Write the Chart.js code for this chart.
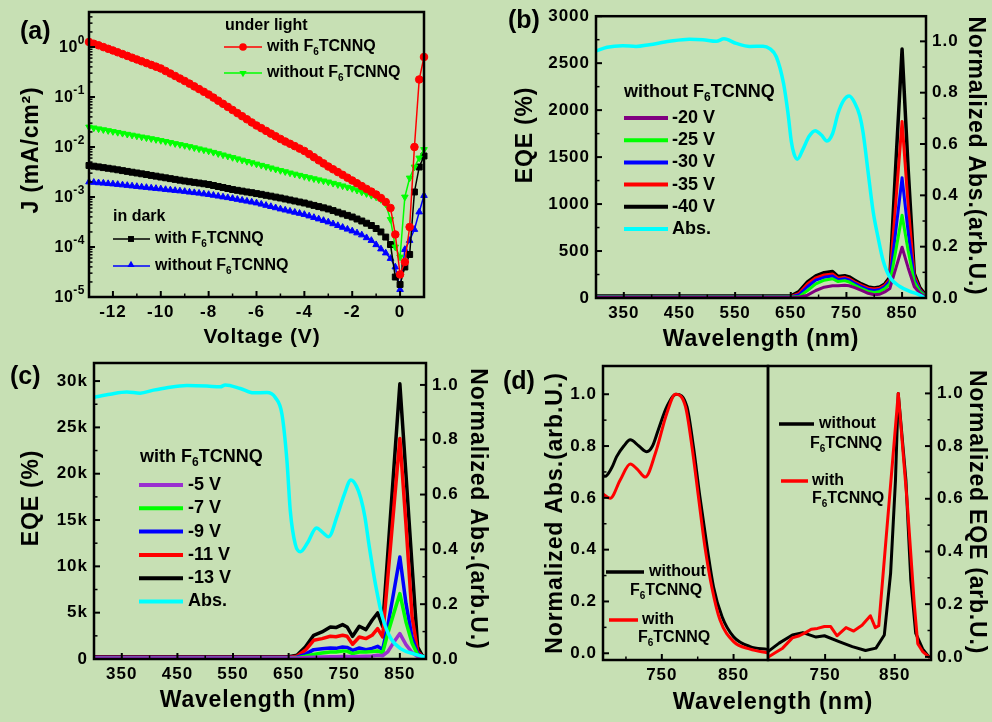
<!DOCTYPE html>
<html>
<head>
<meta charset="utf-8">
<title>F6TCNNQ photodetector figure</title>
<script src="https://cdn.jsdelivr.net/npm/chart.js@4.4.1/dist/chart.umd.min.js"></script>
<style>
  html, body { margin: 0; padding: 0; background: #c7e0b4; }
  #fig { position: relative; width: 992px; height: 722px; overflow: hidden; background: #c7e0b4; }
  #fig canvas { position: absolute; left: 0; top: 0; }
</style>
</head>
<body>
<div id="fig">
  <canvas id="chartA" width="992" height="722"></canvas>
  <canvas id="chartB" width="992" height="722"></canvas>
  <canvas id="chartC" width="992" height="722"></canvas>
  <canvas id="chartD1" width="992" height="722"></canvas>
  <canvas id="chartD2" width="992" height="722"></canvas>
</div>
<script>
const FAMILY = "'Liberation Sans', Arial, Helvetica, sans-serif";
const W = 992, H = 722;

// ---------- (a) J-V curves ----------
const voltage = [-13, -12.8, -12.6, -12.4, -12.2, -12, -11.8, -11.6, -11.4, -11.2, -11, -10.8, -10.6, -10.4, -10.2, -10,
  -9.8, -9.6, -9.4, -9.2, -9, -8.8, -8.6, -8.4, -8.2, -8, -7.8, -7.6, -7.4, -7.2, -7, -6.8, -6.6, -6.4, -6.2, -6,
  -5.8, -5.6, -5.4, -5.2, -5, -4.8, -4.6, -4.4, -4.2, -4, -3.8, -3.6, -3.4, -3.2, -3, -2.8, -2.6, -2.4, -2.2, -2,
  -1.8, -1.6, -1.4, -1.2, -1, -0.8, -0.6, -0.4, -0.2, 0, 0.2, 0.4, 0.6, 0.8, 1];
const jLightWith = [1.26, 1.16, 1.08, 0.995, 0.92, 0.851, 0.783, 0.721, 0.664, 0.611, 0.562, 0.518, 0.476, 0.439, 0.404, 0.372,
  0.331, 0.295, 0.263, 0.234, 0.209, 0.185, 0.163, 0.144, 0.127, 0.112, 0.0973, 0.0843, 0.0731, 0.0634, 0.055,
  0.0476, 0.0413, 0.0358, 0.031, 0.0269, 0.0238, 0.021, 0.0185, 0.0164, 0.0145, 0.0129, 0.0116, 0.0104, 0.00929, 0.00832,
  0.00721, 0.00625, 0.00542, 0.0047, 0.00407, 0.00358, 0.00315, 0.00277, 0.00243, 0.00214, 0.00188, 0.00165, 0.00145,
  0.00128, 0.00112, 9.55e-4, 7.94e-4, 6.03e-4, 1.78e-4, 2.82e-5, 5.01e-5, 2.51e-4, 0.01, 0.224, 0.631];
const jLightWithout = [0.0251, 0.0241, 0.0231, 0.0222, 0.0213, 0.0204, 0.0196, 0.0188, 0.018, 0.0173, 0.0166, 0.0159, 0.0153,
  0.0147, 0.0141, 0.0135, 0.0129, 0.0123, 0.0117, 0.0112, 0.0107, 0.0102, 0.00968, 0.0092, 0.00875, 0.00832, 0.00783,
  0.00738, 0.00695, 0.00655, 0.00617, 0.00581, 0.00547, 0.00515, 0.00485, 0.00457, 0.00431, 0.00406, 0.00382, 0.0036,
  0.00339, 0.00321, 0.00303, 0.00287, 0.00272, 0.00257, 0.00244, 0.00232, 0.00221, 0.0021, 0.002, 0.00188, 0.00177,
  0.00167, 0.00157, 0.00148, 0.00137, 0.00126, 0.00117, 0.00108, 0.001, 8.91e-4, 7.24e-4, 3.55e-4, 1.0e-4, 6.31e-5,
  1.0e-3, 2.4e-3, 3.98e-3, 6.03e-3, 8.91e-3];
const jDarkWith = [4.27e-3, 4.13e-3, 4.0e-3, 3.87e-3, 3.75e-3, 3.63e-3, 3.5e-3, 3.37e-3, 3.25e-3, 3.13e-3, 3.02e-3, 2.91e-3,
  2.81e-3, 2.7e-3, 2.61e-3, 2.51e-3, 2.42e-3, 2.33e-3, 2.25e-3, 2.17e-3, 2.09e-3, 2.02e-3, 1.96e-3, 1.9e-3, 1.84e-3,
  1.78e-3, 1.7e-3, 1.62e-3, 1.55e-3, 1.48e-3, 1.41e-3, 1.36e-3, 1.31e-3, 1.26e-3, 1.22e-3, 1.17e-3, 1.13e-3, 1.08e-3,
  1.04e-3, 9.95e-4, 9.55e-4, 9.12e-4, 8.71e-4, 8.32e-4, 7.94e-4, 7.59e-4, 7.18e-4, 6.79e-4, 6.43e-4, 6.08e-4, 5.75e-4,
  5.35e-4, 4.97e-4, 4.61e-4, 4.29e-4, 3.98e-4, 3.63e-4, 3.31e-4, 2.99e-4, 2.69e-4, 2.34e-4, 2.0e-4, 1.58e-4, 1.12e-4,
  2.51e-5, 1.78e-5, 3.98e-5, 7.08e-5, 1.26e-3, 3.98e-3, 6.61e-3];
const jDarkWithout = [2.0e-3, 1.96e-3, 1.92e-3, 1.89e-3, 1.85e-3, 1.82e-3, 1.78e-3, 1.74e-3, 1.7e-3, 1.66e-3, 1.62e-3, 1.58e-3,
  1.55e-3, 1.51e-3, 1.48e-3, 1.45e-3, 1.41e-3, 1.38e-3, 1.35e-3, 1.32e-3, 1.29e-3, 1.25e-3, 1.22e-3, 1.19e-3, 1.15e-3,
  1.12e-3, 1.08e-3, 1.04e-3, 1.0e-3, 9.68e-4, 9.33e-4, 8.95e-4, 8.59e-4, 8.24e-4, 7.91e-4, 7.59e-4, 7.18e-4, 6.79e-4,
  6.43e-4, 6.08e-4, 5.75e-4, 5.47e-4, 5.2e-4, 4.94e-4, 4.7e-4, 4.47e-4, 4.17e-4, 3.89e-4, 3.63e-4, 3.39e-4, 3.16e-4,
  2.91e-4, 2.68e-4, 2.47e-4, 2.27e-4, 2.09e-4, 1.91e-4, 1.74e-4, 1.53e-4, 1.35e-4, 1.11e-4, 9.12e-5, 7.59e-5, 5.89e-5,
  3.98e-5, 1.41e-5, 8.91e-5, 1.35e-4, 2.24e-4, 5.01e-4, 1.07e-3];

// ---------- (b) / (c) EQE spectra ----------
const eqeWl = [300, 400, 500, 600, 650, 665, 680, 695, 710, 725, 735, 747, 755, 765, 777, 789, 800, 810, 819, 828, 839, 850, 861, 872, 882, 890, 895];
// (b) without F6TCNNQ
const eqeWithoutM20 = [8, 8, 8, 8, 8, 8, 30, 80, 115, 130, 130, 135, 130, 110, 80, 50, 35, 40, 65, 100, 320, 540, 320, 120, 50, 20, 10];
const eqeWithoutM25 = [10, 10, 10, 10, 10, 15, 80, 150, 190, 205, 175, 185, 170, 135, 100, 70, 60, 70, 100, 150, 515, 880, 500, 170, 70, 30, 15];
const eqeWithoutM30 = [12, 12, 12, 12, 12, 35, 120, 190, 220, 235, 195, 205, 190, 155, 120, 90, 80, 90, 120, 180, 730, 1280, 700, 200, 80, 35, 20];
const eqeWithoutM35 = [15, 15, 15, 15, 15, 50, 150, 215, 245, 255, 210, 220, 205, 170, 135, 105, 95, 105, 135, 200, 1040, 1880, 980, 230, 90, 40, 25];
const eqeWithoutM40 = [20, 20, 20, 20, 20, 70, 170, 235, 270, 283, 228, 238, 225, 190, 150, 118, 108, 118, 150, 220, 1450, 2650, 1370, 260, 110, 50, 30];
// (c) with F6TCNNQ
const eqeWithM5 = [100, 100, 100, 100, 100, 120, 150, 200, 220, 250, 250, 280, 280, 250, 280, 300, 330, 400, 350, 760, 1800, 2740, 1550, 700, 250, 150, 100];
const eqeWithM7 = [100, 100, 100, 100, 100, 150, 300, 500, 650, 760, 760, 870, 850, 580, 760, 760, 800, 870, 650, 2700, 4900, 7060, 4000, 1700, 450, 200, 100];
const eqeWithM9 = [150, 150, 150, 150, 150, 200, 500, 1010, 1100, 1190, 1150, 1300, 1250, 940, 1190, 1010, 1150, 1370, 1010, 3500, 7200, 11000, 6000, 2300, 600, 250, 150];
const eqeWithM11 = [200, 200, 200, 200, 200, 300, 940, 2020, 2200, 2450, 2400, 2560, 2450, 1590, 2380, 2200, 2560, 3280, 2380, 8600, 16200, 23800, 14500, 4500, 800, 300, 200];
const eqeWithM13 = [250, 250, 250, 250, 250, 400, 1300, 2560, 2920, 3460, 3390, 3710, 3460, 2450, 3530, 3170, 4180, 4970, 3530, 11100, 20400, 29700, 19900, 10000, 1300, 400, 200];

const absWlB = [300, 320, 348, 372, 396, 432, 468, 492, 516, 530, 552, 576, 600, 612, 624, 637, 645, 651, 656, 662, 672, 683, 694, 705,
  715, 725, 735, 745, 755, 765, 774, 780, 789, 798, 807, 816, 828, 846, 865, 876, 888];
const absWithoutB = [0.962, 0.977, 0.983, 0.98, 0.987, 1.0, 1.008, 1.006, 1.0, 1.01, 0.992, 0.98, 0.981, 0.972, 0.94, 0.836, 0.72, 0.61,
  0.56, 0.541, 0.58, 0.63, 0.652, 0.635, 0.612, 0.64, 0.72, 0.77, 0.787, 0.76, 0.71, 0.644, 0.49, 0.337, 0.234, 0.145, 0.081,
  0.045, 0.025, 0.017, 0.004];
const absWlC = [300, 329, 359, 383, 407, 431, 467, 503, 527, 536, 563, 587, 611, 626, 638, 647, 653, 662, 671, 684, 700, 712, 722, 738,
  750, 762, 772, 780, 787, 795, 807, 819, 834, 852, 876, 894];
const absWithC = [0.955, 0.966, 0.974, 0.97, 0.981, 0.99, 0.998, 0.996, 0.993, 1.0, 0.987, 0.971, 0.972, 0.954, 0.893, 0.722, 0.54,
  0.418, 0.391, 0.424, 0.478, 0.46, 0.446, 0.527, 0.6, 0.653, 0.63, 0.585, 0.52, 0.41, 0.263, 0.15, 0.074, 0.037, 0.018, 0.008];

const seriesB = ['-20 V', '-25 V', '-30 V', '-35 V', '-40 V', 'Abs.'];
const seriesC = ['-5 V', '-7 V', '-9 V', '-11 V', '-13 V', 'Abs.'];

// ---------- (d) normalized spectra ----------
const normAbsWlWithout = [668, 671, 680, 687, 697, 706, 718, 729, 737, 745, 757, 770, 785, 794, 803, 813, 822, 834, 850, 873, 897];
const normAbsWithout = [0.685, 0.683, 0.715, 0.759, 0.8, 0.824, 0.8, 0.778, 0.8, 0.862, 0.952, 1.0, 0.952, 0.798, 0.605, 0.412,
  0.257, 0.141, 0.064, 0.026, 0.015];
const normAbsWlWith = [668, 678, 692, 706, 716, 727, 741, 757, 769, 783, 792, 801, 810, 820, 831, 850, 873, 897];
const normAbsWith = [0.615, 0.598, 0.669, 0.731, 0.71, 0.68, 0.772, 0.927, 1.0, 0.952, 0.798, 0.605, 0.412, 0.251, 0.129, 0.045, 0.016, 0.002];
const normEqeWlWithout = [668, 684, 703, 718, 737, 749, 770, 789, 808, 823, 835, 844, 851, 855, 866, 873, 880, 890, 899];
const normEqeWithout = [0.02, 0.052, 0.083, 0.092, 0.075, 0.08, 0.058, 0.039, 0.024, 0.033, 0.083, 0.317, 0.67, 1.0, 0.671, 0.292, 0.09, 0.03, 0.0];
const normEqeWlWith = [669, 680, 689, 703, 713, 722, 730, 739, 749, 758, 767, 780, 791, 803, 815, 822, 827, 855, 868, 878, 883, 890, 899];
const normEqeWith = [0.0, 0.018, 0.033, 0.072, 0.08, 0.092, 0.105, 0.108, 0.115, 0.115, 0.08, 0.111, 0.098, 0.12, 0.156, 0.111, 0.118,
  1.0, 0.58, 0.2, 0.05, 0.02, 0.0];

// tick positions
const wlMajor = [350, 450, 550, 650, 750, 850];
const wlMinor = [300, 400, 500, 600, 700, 800];
const normMajor = [0, 0.2, 0.4, 0.6, 0.8, 1.0];
const normMinor = [0.1, 0.3, 0.5, 0.7, 0.9];

const C = { red: '#ff0000', green: '#00ff00', blue: '#0000ff', black: '#000000', cyan: '#00ffff', purpleB: '#800080', purpleC: '#9a2fd0' };

// ---------- helpers ----------
const pts = (xs, ys) => xs.map((x, i) => ({ x, y: ys[i] }));

// text with {sub}script parts, baseline middle
function text(ctx, str, x, y, size, o = {}) {
  const parts = str.split(/(\{[^}]*\})/).filter(Boolean)
    .map(s => s[0] === '{' ? { t: s.slice(1, -1), sub: true } : { t: s, sub: false });
  const fontOf = sub => `bold ${sub ? Math.round(size * 0.65) : size}px ${FAMILY}`;
  ctx.save();
  ctx.letterSpacing = (o.ls || 0) + 'px';
  let w = 0;
  parts.forEach(p => { ctx.font = fontOf(p.sub); p.w = ctx.measureText(p.t).width; w += p.w; });
  ctx.translate(x, y);
  if (o.rot) ctx.rotate(o.rot);
  let cx = o.align === 'center' ? -w / 2 : o.align === 'right' ? -w : 0;
  ctx.textBaseline = 'middle';
  ctx.textAlign = 'left';
  ctx.fillStyle = '#000';
  parts.forEach(p => { ctx.font = fontOf(p.sub); ctx.fillText(p.t, cx, p.sub ? size * 0.32 : 0); cx += p.w; });
  ctx.restore();
}

function legendLine(ctx, x1, x2, y, color, lw) {
  ctx.save();
  ctx.strokeStyle = color;
  ctx.lineWidth = lw;
  ctx.beginPath(); ctx.moveTo(x1, y); ctx.lineTo(x2, y); ctx.stroke();
  ctx.restore();
}

function marker(ctx, style, x, y, r, color) {
  ctx.save();
  ctx.fillStyle = color;
  ctx.beginPath();
  if (style === 'circle') ctx.arc(x, y, r, 0, Math.PI * 2);
  else if (style === 'rect') { const s = r * Math.SQRT1_2; ctx.rect(x - s, y - s, 2 * s, 2 * s); }
  else {
    const d = style === 'down' ? -1 : 1;
    ctx.moveTo(x, y - d * r);
    ctx.lineTo(x + r * 0.866, y + d * r * 0.5);
    ctx.lineTo(x - r * 0.866, y + d * r * 0.5);
    ctx.closePath();
  }
  ctx.fill();
  ctx.restore();
}

function axisCfg(ax, pos, size) {
  return {
    type: ax.type || 'linear',
    position: pos,
    min: ax.min,
    max: ax.max,
    grid: { display: false, drawTicks: false },
    border: { display: false },
    afterBuildTicks: s => { s.ticks = (ax.labels || []).map(v => ({ value: v })); },
    afterFit: s => { if (pos === 'bottom') s.height = size; else s.width = size; },
    ticks: {
      display: !!ax.labels,
      padding: pos === 'bottom' ? 5 : 6,
      color: '#000',
      autoSkip: false,
      maxRotation: 0,
      font: { family: FAMILY, size: 17, weight: 'bold' },
      callback: ax.fmt || (v => String(v))
    }
  };
}

function drawFrame(ctx, chart, spec) {
  const a = chart.chartArea;
  ctx.save();
  ctx.strokeStyle = '#000';
  [['x', spec.x], ['y', spec.y], ['y2', spec.y2]].forEach(([id, ax]) => {
    if (!ax) return;
    const s = chart.scales[id];
    [[ax.major || ax.labels || [], 6, 2], [ax.minor || [], 3.5, 1.5]].forEach(([vals, len, lw]) => {
      ctx.lineWidth = lw;
      vals.forEach(v => {
        const p = s.getPixelForValue(v);
        ctx.beginPath();
        if (s.position === 'bottom') { ctx.moveTo(p, a.bottom); ctx.lineTo(p, a.bottom - len); }
        else if (s.position === 'left') { ctx.moveTo(a.left, p); ctx.lineTo(a.left + len, p); }
        else { ctx.moveTo(a.right, p); ctx.lineTo(a.right - len, p); }
        ctx.stroke();
      });
    });
  });
  ctx.lineWidth = 2.5;
  ctx.strokeRect(a.left, a.top, a.right - a.left, a.bottom - a.top);
  ctx.restore();
}

function panel(id, spec) {
  const { l, t, r, b } = spec.area;
  const HB = 40, WA = 50;
  const scales = { x: axisCfg(spec.x, 'bottom', HB) };
  let wl = 0, wr = 0;
  const yPos = spec.y.pos || 'left';
  scales.y = axisCfg(spec.y, yPos, WA);
  if (yPos === 'left') wl = WA; else wr = WA;
  if (spec.y2) { scales.y2 = axisCfg(spec.y2, 'right', WA); wr = WA; }
  return new Chart(document.getElementById(id), {
    type: 'line',
    data: { datasets: spec.datasets },
    options: {
      responsive: false,
      animation: false,
      events: [],
      parsing: false,
      layout: { padding: { left: l - wl, top: t, right: W - r - wr, bottom: H - b - HB } },
      plugins: { legend: { display: false }, tooltip: { enabled: false } },
      scales
    },
    plugins: [{
      id: 'deco',
      beforeUpdate(chart) { chart.ctx.letterSpacing = '1px'; },
      beforeDraw(chart) { chart.ctx.letterSpacing = '1px'; },
      afterDraw(chart) {
        drawFrame(chart.ctx, chart, spec);
        if (spec.deco) spec.deco(chart.ctx, chart);
      }
    }]
  });
}

function jvSet(label, ys, color, style, rot) {
  return {
    label, data: pts(voltage, ys), borderColor: color, backgroundColor: color, borderWidth: 1.5,
    pointStyle: style, pointRotation: rot || 0, pointRadius: style === 'rect' ? 4.2 : 3.8,
    pointBackgroundColor: color, pointBorderColor: color, pointBorderWidth: 1, tension: 0, clip: 6
  };
}

function specLine(label, xs, ys, color, width, smooth, axisId) {
  return {
    label, data: pts(xs, ys), borderColor: color, borderWidth: width, pointRadius: 0,
    tension: smooth ? 0.4 : 0, cubicInterpolationMode: smooth ? 'monotone' : 'default',
    yAxisID: axisId || 'y', borderJoinStyle: 'round', borderCapStyle: 'round'
  };
}

const PI2 = Math.PI / 2;

// ---------- (a) ----------
panel('chartA', {
  area: { l: 89, t: 12, r: 424, b: 297 },
  x: { min: -13, max: 1, labels: [-12, -10, -8, -6, -4, -2, 0], minor: [-13, -11, -9, -7, -5, -3, -1, 1] },
  y: {
    type: 'logarithmic', min: 1e-5, max: 5.01,
    major: [1e-5, 1e-4, 1e-3, 1e-2, 1e-1, 1],
    minor: [2e-5, 3e-5, 4e-5, 5e-5, 6e-5, 7e-5, 8e-5, 9e-5, 2e-4, 3e-4, 4e-4, 5e-4, 6e-4, 7e-4, 8e-4, 9e-4,
      2e-3, 3e-3, 4e-3, 5e-3, 6e-3, 7e-3, 8e-3, 9e-3, 0.02, 0.03, 0.04, 0.05, 0.06, 0.07, 0.08, 0.09,
      0.2, 0.3, 0.4, 0.5, 0.6, 0.7, 0.8, 0.9, 2, 3, 4, 5]
  },
  datasets: [
    jvSet('with F6TCNNQ (light)', jLightWith, C.red, 'circle'),
    jvSet('without F6TCNNQ (light)', jLightWithout, C.green, 'triangle', 180),
    jvSet('with F6TCNNQ (dark)', jDarkWith, C.black, 'rect'),
    jvSet('without F6TCNNQ (dark)', jDarkWithout, C.blue, 'triangle')
  ],
  deco(ctx, ch) {
    const ys = ch.scales.y, a = ch.chartArea;
    [0, -1, -2, -3, -4, -5].forEach(k => {
      const p = ys.getPixelForValue(Math.pow(10, k));
      ctx.save();
      ctx.fillStyle = '#000'; ctx.textBaseline = 'middle'; ctx.textAlign = 'left'; ctx.letterSpacing = '0.5px';
      ctx.font = `bold 16px ${FAMILY}`; const w1 = ctx.measureText('10').width;
      ctx.font = `bold 12px ${FAMILY}`; const w2 = ctx.measureText(String(k)).width;
      const x0 = a.left - 4 - w1 - w2;
      ctx.font = `bold 16px ${FAMILY}`; ctx.fillText('10', x0, p + 1);
      ctx.font = `bold 12px ${FAMILY}`; ctx.fillText(String(k), x0 + w1, p - 6);
      ctx.restore();
    });
    text(ctx, '(a)', 20, 32, 25);
    text(ctx, 'J (mA/cm\u00b2)', 32, 150, 23, { rot: -PI2, align: 'center', ls: 0.8 });
    text(ctx, 'Voltage (V)', 262, 337, 21, { align: 'center', ls: 0.8 });
    text(ctx, 'under light', 225, 26, 16);
    legendLine(ctx, 224, 262, 47, C.red, 1.5); marker(ctx, 'circle', 243, 47, 3.8, C.red);
    text(ctx, 'with F{6}TCNNQ', 267, 47, 16);
    legendLine(ctx, 224, 262, 73, C.green, 1.5); marker(ctx, 'down', 243, 73, 4.2, C.green);
    text(ctx, 'without F{6}TCNNQ', 267, 73, 16);
    text(ctx, 'in dark', 113, 217, 16);
    legendLine(ctx, 113, 150, 239, C.black, 1.5); marker(ctx, 'rect', 131, 239, 4.2, C.black);
    text(ctx, 'with F{6}TCNNQ', 155, 239, 16);
    legendLine(ctx, 113, 150, 266, C.blue, 1.5); marker(ctx, 'up', 131, 265, 4.2, C.blue);
    text(ctx, 'without F{6}TCNNQ', 155, 266, 16);
  }
});

// ---------- (b) ----------
const colorsB = [C.purpleB, C.green, C.blue, C.red, C.black, C.cyan];
panel('chartB', {
  area: { l: 596, t: 12, r: 926, b: 298 },
  x: { min: 300, max: 893, labels: wlMajor, minor: wlMinor },
  y: { min: 0, max: 3000, labels: [0, 500, 1000, 1500, 2000, 2500, 3000], minor: [250, 750, 1250, 1750, 2250, 2750] },
  y2: { min: 0, max: 1.098, labels: normMajor, minor: normMinor, fmt: v => v.toFixed(1) },
  datasets: [
    specLine(seriesB[5], absWlB, absWithoutB, C.cyan, 3.5, true, 'y2'),
    specLine(seriesB[0], eqeWl, eqeWithoutM20, colorsB[0], 3),
    specLine(seriesB[1], eqeWl, eqeWithoutM25, colorsB[1], 3),
    specLine(seriesB[2], eqeWl, eqeWithoutM30, colorsB[2], 3),
    specLine(seriesB[3], eqeWl, eqeWithoutM35, colorsB[3], 3),
    specLine(seriesB[4], eqeWl, eqeWithoutM40, colorsB[4], 3.5)
  ],
  deco(ctx) {
    text(ctx, '(b)', 508, 21, 25);
    text(ctx, 'EQE (%)', 526, 135, 23, { rot: -PI2, align: 'center', ls: 0.8 });
    text(ctx, 'Normalized Abs.(arb.U.)', 975, 156, 23, { rot: PI2, align: 'center', ls: 0.8 });
    text(ctx, 'Wavelength (nm)', 761, 340, 23, { align: 'center', ls: 0.8 });
    text(ctx, 'without F{6}TCNNQ', 624, 92, 18);
    seriesB.forEach((lab, i) => {
      const y = 118 + i * 22.2;
      legendLine(ctx, 624, 668, y, colorsB[i], 4);
      text(ctx, lab, 672, y, 18);
    });
  }
});

// ---------- (c) ----------
const colorsC = [C.purpleC, C.green, C.blue, C.red, C.black, C.cyan];
panel('chartC', {
  area: { l: 94, t: 363, r: 426, b: 659 },
  x: { min: 300, max: 897, labels: wlMajor, minor: wlMinor },
  y: {
    min: 0, max: 31950, labels: [0, 5000, 10000, 15000, 20000, 25000, 30000],
    minor: [2500, 7500, 12500, 17500, 22500, 27500], fmt: v => v === 0 ? '0' : (v / 1000) + 'k'
  },
  y2: { min: 0, max: 1.08, labels: normMajor, minor: normMinor, fmt: v => v.toFixed(1) },
  datasets: [
    specLine(seriesC[5], absWlC, absWithC, C.cyan, 3.5, true, 'y2'),
    specLine(seriesC[0], eqeWl, eqeWithM5, colorsC[0], 3.5),
    specLine(seriesC[1], eqeWl, eqeWithM7, colorsC[1], 3.5),
    specLine(seriesC[2], eqeWl, eqeWithM9, colorsC[2], 3.5),
    specLine(seriesC[3], eqeWl, eqeWithM11, colorsC[3], 3.5),
    specLine(seriesC[4], eqeWl, eqeWithM13, colorsC[4], 3.5)
  ],
  deco(ctx) {
    text(ctx, '(c)', 10, 377, 25);
    text(ctx, 'EQE (%)', 32, 498, 23, { rot: -PI2, align: 'center', ls: 0.8 });
    text(ctx, 'Normalized Abs.(arb.U.)', 477, 509, 23, { rot: PI2, align: 'center', ls: 0.9 });
    text(ctx, 'Wavelength (nm)', 258, 701, 23, { align: 'center', ls: 0.8 });
    text(ctx, 'with F{6}TCNNQ', 140, 457, 18);
    seriesC.forEach((lab, i) => {
      const y = 485 + i * 23.3;
      legendLine(ctx, 139, 183, y, colorsC[i], 4);
      text(ctx, lab, 188, y, 18);
    });
  }
});

// ---------- (d) left: normalized absorption ----------
panel('chartD1', {
  area: { l: 603, t: 366, r: 768, b: 660 },
  x: { min: 668, max: 898, labels: [750, 850], minor: [700, 800] },
  y: { min: -0.026, max: 1.109, labels: normMajor, minor: normMinor, fmt: v => v.toFixed(1) },
  datasets: [
    specLine('with F6TCNNQ', normAbsWlWith, normAbsWith, C.red, 3, true),
    specLine('without F6TCNNQ', normAbsWlWithout, normAbsWithout, C.black, 3, true)
  ],
  deco(ctx) {
    text(ctx, '(d)', 503, 382, 25);
    text(ctx, 'Normalized Abs.(arb.U.)', 556, 513, 23, { rot: -PI2, align: 'center', ls: 0.9 });
    legendLine(ctx, 606, 644, 572, C.black, 3.5);
    text(ctx, 'without', 649, 572, 16);
    text(ctx, 'F{6}TCNNQ', 630, 591, 16);
    legendLine(ctx, 609, 638, 620, C.red, 3.5);
    text(ctx, 'with', 642, 620, 16);
    text(ctx, 'F{6}TCNNQ', 638, 638, 16);
  }
});

// ---------- (d) right: normalized EQE ----------
panel('chartD2', {
  area: { l: 768, t: 366, r: 931, b: 660 },
  x: { min: 668, max: 902, labels: [750, 850], minor: [700, 800] },
  y: { pos: 'right', min: -0.012, max: 1.104, labels: normMajor, minor: normMinor, fmt: v => v.toFixed(1) },
  datasets: [
    specLine('with F6TCNNQ', normEqeWlWith, normEqeWith, C.red, 3, false),
    specLine('without F6TCNNQ', normEqeWlWithout, normEqeWithout, C.black, 3, false)
  ],
  deco(ctx) {
    text(ctx, 'Normalized EQE (arb.U.)', 976, 512, 23, { rot: PI2, align: 'center', ls: 0.8 });
    text(ctx, 'Wavelength (nm)', 773, 703, 23.5, { align: 'center', ls: 0.8 });
    legendLine(ctx, 779, 814, 424, C.black, 3.5);
    text(ctx, 'without', 819, 424, 16);
    text(ctx, 'F{6}TCNNQ', 810, 444, 16);
    legendLine(ctx, 781, 808, 481, C.red, 3.5);
    text(ctx, 'with', 812, 481, 16);
    text(ctx, 'F{6}TCNNQ', 812, 499, 16);
  }
});
</script>
</body>
</html>
